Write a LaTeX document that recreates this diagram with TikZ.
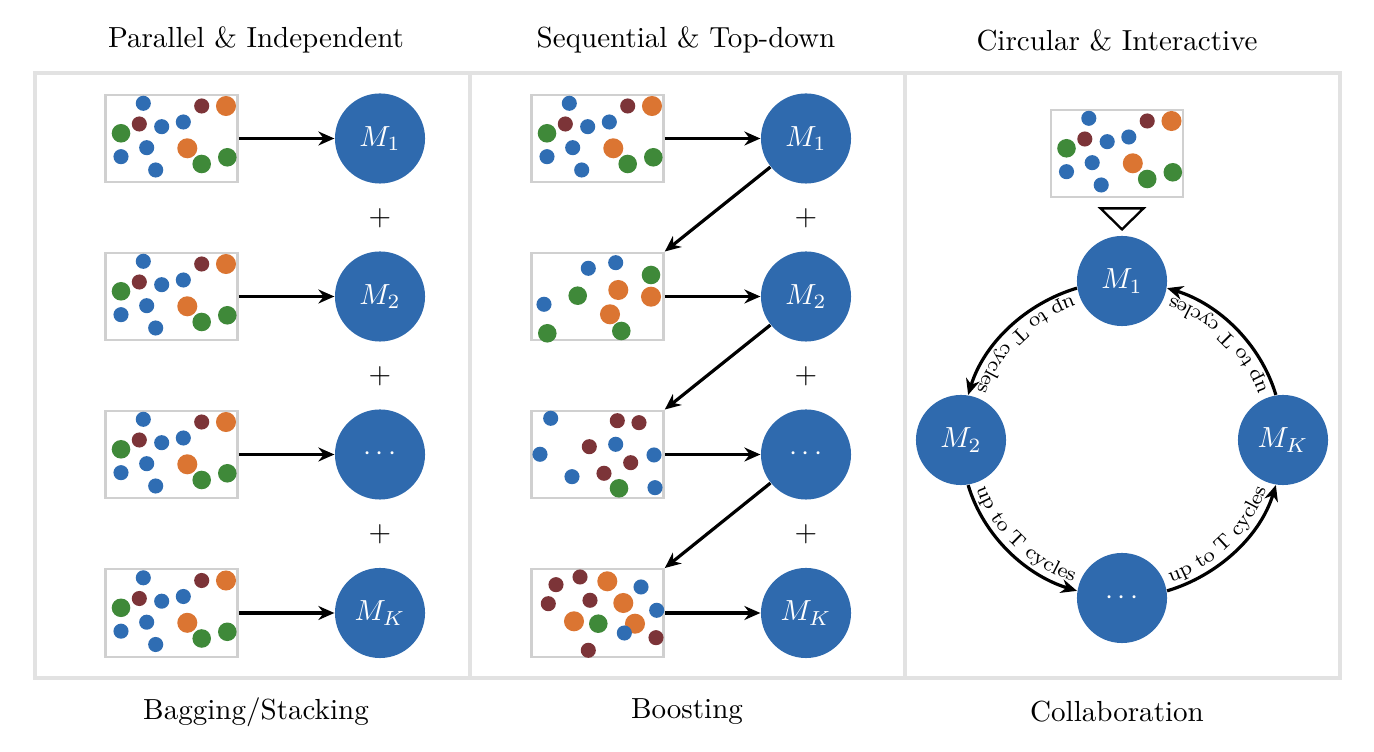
\documentclass[tikz,border=0pt]{standalone}
\usetikzlibrary{arrows.meta,decorations.text}

\definecolor{modelblue}{RGB}{47,106,174}
\definecolor{dotblue}{RGB}{47,109,179}
\definecolor{dotred}{RGB}{124,52,56}
\definecolor{dotorange}{RGB}{219,117,50}
\definecolor{dotgreen}{RGB}{63,137,57}
\definecolor{framegray}{RGB}{226,226,226}

\newcommand{\bluedot}[2]{\fill[dotblue] (#1,#2) circle (2.6pt);}
\newcommand{\reddot}[2]{\fill[dotred] (#1,#2) circle (2.6pt);}
\newcommand{\greendot}[2]{\fill[dotgreen] (#1,#2) circle (3.2pt);}
\newcommand{\orangedot}[2]{\fill[dotorange] (#1,#2) circle (3.45pt);}

\newcommand{\dotsetA}{%
  \bluedot{-28.2}{-35.2} \reddot{30.2}{-32.5} \orangedot{54.5}{-32.5}
  \reddot{-32.2}{-14.5} \bluedot{-9.8}{-11.8} \bluedot{11.8}{-16.5}
  \greendot{-50.5}{-5.2} \bluedot{-24.8}{9.2} \orangedot{15.8}{9.8}
  \bluedot{-50.5}{18.2} \greendot{30.2}{25.5} \greendot{55.8}{18.8}
  \bluedot{-15.8}{31.5}}
\newcommand{\dotsetB}{%
  \bluedot{-9.2}{-28.2} \bluedot{18.2}{-33.8} \greendot{53.5}{-21.5}
  \orangedot{20.8}{-6.5} \orangedot{53.5}{0.2} \greendot{-19.8}{-0.8}
  \bluedot{-53.5}{7.8} \orangedot{12.5}{17.8} \greendot{-50.2}{36.8}
  \greendot{23.8}{34.5}}
\newcommand{\dotsetC}{%
  \bluedot{-46.8}{-36.2} \reddot{19.8}{-33.8} \reddot{41.5}{-31.8}
  \reddot{-8.2}{-7.8} \bluedot{18.2}{-10.2} \bluedot{-57.5}{-0.2}
  \bluedot{56.5}{0.5} \reddot{33.2}{8.2} \bluedot{-25.5}{22.2}
  \reddot{6.5}{18.8} \greendot{21.5}{33.8} \bluedot{57.5}{33.2}}
\newcommand{\dotsetD}{%
  \reddot{-41.5}{-28.3} \reddot{-17.5}{-36} \orangedot{9.8}{-31.7}
  \bluedot{43.5}{-26} \reddot{-49.2}{-9.3} \reddot{-7.5}{-12.7}
  \orangedot{25.8}{-10} \bluedot{59.2}{-2.7} \orangedot{-23.5}{8.3}
  \greendot{0.8}{10.7} \orangedot{37.5}{10.7} \bluedot{26.8}{20}
  \reddot{58.5}{24.7} \reddot{-9.2}{37.3}}

\begin{document}
\begin{tikzpicture}[x=0.0121cm, y=-0.0121cm,
    >={Stealth[length=5.5pt,width=4.8pt,inset=1.8pt]},
    model/.style={circle, fill=modelblue, text=white, minimum size=1.09cm, inner sep=0pt, font=\normalsize},
    databox/.style={draw=framegray!92!black, line width=0.8pt, minimum width=1.6cm, minimum height=1.06cm, inner sep=0pt},
    panel/.style={draw=framegray, line width=1.1pt},
    flow/.style={->, line width=1.1pt},
    cyc/.style={flow, looseness=0.9, postaction={decorate, decoration={text along path, text={|\scriptsize|up to T cycles}, text align=center, raise=2.5pt}}}]
  \useasboundingbox (0,0) rectangle (1374,752);

  \draw[panel] (35,73) rectangle (470,678);
  \draw[panel] (470,73) rectangle (905,678);
  \draw[panel] (905,73) rectangle (1340,678);

  \node (head1) at (256,40) {Parallel \& Independent};
  \node (head2) at (686,40) {Sequential \& Top-down};
  \node (head3) at (1117,40) {Circular \& Interactive};
  \node (foot1) at (256,712) {Bagging/Stacking};
  \node (foot2) at (687,712) {Boosting};
  \node (foot3) at (1117,712) {Collaboration};

  % bagging
  \foreach \r/\y/\lab in {1/138.5/M_1, 2/296.5/M_2, 3/454.5/\cdots, 4/613/M_K} {
    \node[databox] (bag\r) at (171.5,\y) {};
    \begin{scope}[shift={(bag\r.center)}] \dotsetA \end{scope}
    \node[model] (bagm\r) at (380,\y) {$\lab$};
    \draw[flow] (bag\r) -- (bagm\r);
  }
  \foreach \r/\y in {1/218, 2/376, 3/534}
    \node (bagplus\r) at (380,\y) {$+$};

  % boosting
  \foreach \r/\y/\lab/\pat in {1/138.5/M_1/\dotsetA, 2/296.5/M_2/\dotsetB, 3/454.5/\cdots/\dotsetC, 4/613/M_K/\dotsetD} {
    \node[databox] (boost\r) at (597.5,\y) {};
    \begin{scope}[shift={(boost\r.center)}] \pat \end{scope}
    \node[model] (boostm\r) at (806,\y) {$\lab$};
    \draw[flow] (boost\r) -- (boostm\r);
  }
  \foreach \r/\y in {1/218, 2/376, 3/534}
    \node (boostplus\r) at (806,\y) {$+$};
  \foreach \r/\s in {1/2, 2/3, 3/4}
    \draw[flow] (boostm\r) -- (boost\s.north east);

  % collaboration
  \node[databox] (collab) at (1117,153.5) {};
  \begin{scope}[shift={(collab.center)}] \dotsetA \end{scope}
  \node[model] (colm1) at (1122,281) {$M_1$};
  \node[model] (colm2) at (961,440) {$M_2$};
  \node[model] (colm3) at (1122,598) {$\cdots$};
  \node[model] (colmk) at (1283,440) {$M_K$};
  \draw[line width=0.8pt] (colm1.north) ++(0,-6) -- ++(-21.5,-21) -- ++(43,0) -- cycle;

  \draw[cyc] (colm1.189) to[out=196.6, in=73] (colm2.81);
  \draw[cyc] (colm2.279) to[out=286.6, in=163] (colm3.171);
  \draw[cyc] (colm3.9) to[out=16.6, in=253] (colmk.261);
  \draw[cyc] (colmk.99) to[out=106.6, in=343] (colm1.351);
\end{tikzpicture}
\end{document}
